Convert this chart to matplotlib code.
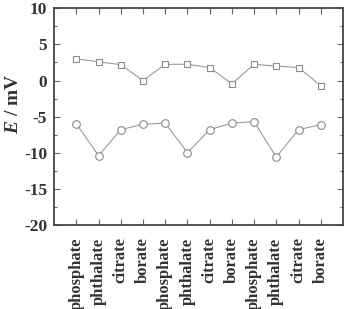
import numpy as np
import matplotlib.pyplot as plt
from matplotlib.ticker import MultipleLocator

buffers = ['phosphate', 'phthalate', 'citrate', 'borate',
           'phosphate', 'phthalate', 'citrate', 'borate',
           'phosphate', 'phthalate', 'citrate', 'borate']
e_squares = [3.0, 2.6, 2.2, 0.0, 2.25, 2.25, 1.8, -0.45, 2.25, 2.0, 1.8, -0.7]
e_circles = [-6.0, -10.4, -6.8, -6.05, -5.9, -10.0, -6.8, -5.9, -5.7, -10.6, -6.8, -6.1]

plt.rcParams['font.family'] = ['Liberation Serif', 'DejaVu Serif']
plt.rcParams['font.weight'] = 'bold'
plt.rcParams['axes.unicode_minus'] = False
plt.rcParams['mathtext.fontset'] = 'custom'
plt.rcParams['mathtext.it'] = 'Liberation Serif:italic:bold'
plt.rcParams['mathtext.rm'] = 'Liberation Serif:bold'

fig = plt.figure(figsize=(3.45, 3.09), dpi=100)
ax = fig.add_axes([0.157, 0.272, 0.837, 0.701])

x = np.arange(1, len(buffers) + 1)
ax.plot(x, e_squares, color='#9a9a9a', lw=0.8, marker='s', ms=4.5,
        mfc='white', mec='#8a8a8a', mew=0.8)
ax.plot(x, e_circles, color='#9a9a9a', lw=0.8, marker='o', ms=5.5,
        mfc='white', mec='#8a8a8a', mew=0.8)

ax.set_xlim(0, 13)
ax.set_ylim(-20, 10)
ax.set_xticks(x)
ax.set_xticklabels(buffers, rotation=90, fontsize=12, fontweight='bold', color='#333333')
ax.yaxis.set_major_locator(MultipleLocator(5))
ax.yaxis.set_minor_locator(MultipleLocator(2.5))
for lab in ax.get_yticklabels():
    lab.set_fontsize(12.5)
    lab.set_fontweight('bold')
    lab.set_color('#333333')
ax.tick_params(which='both', direction='in', top=True, right=True, color='#666666')
ax.tick_params(which='major', length=4, width=0.8)
ax.tick_params(which='minor', length=2.5, width=0.8)
ax.tick_params(axis='x', pad=9)
ax.tick_params(axis='y', pad=5)
for s in ax.spines.values():
    s.set_color('#444444')
    s.set_linewidth(1.3)

ax.set_ylabel(r'$E$ / mV', fontsize=14, fontweight='bold', color='#333333')
ax.yaxis.set_label_coords(-0.11, 0.56)

fig.savefig('out.png', dpi=100)
